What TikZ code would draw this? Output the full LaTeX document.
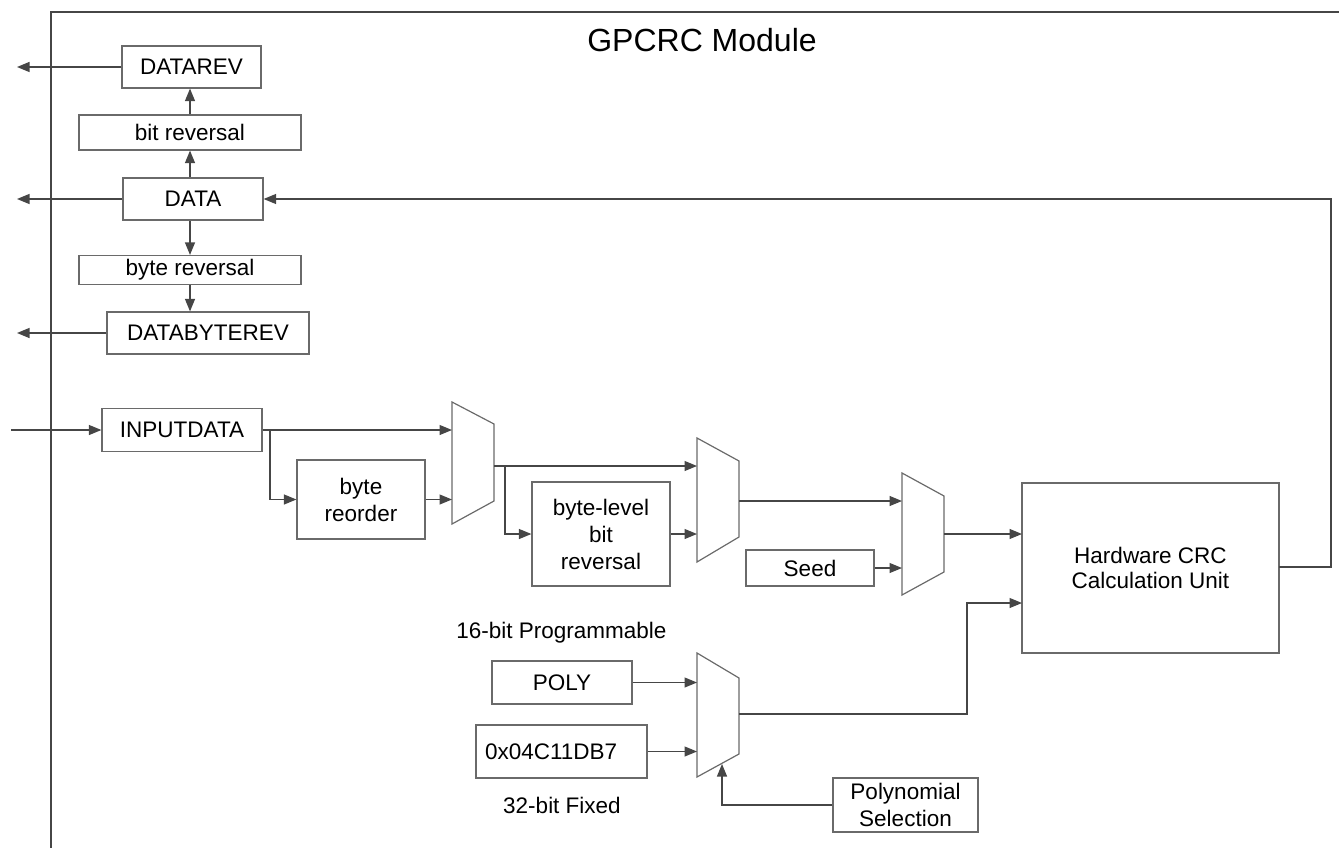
\documentclass[tikz,border=0pt]{standalone}
\usepackage{fontspec}
\setmainfont{Liberation Sans}
\usetikzlibrary{arrows.meta}
\definecolor{linec}{HTML}{464646}
\definecolor{boxc}{HTML}{6A6A6A}
\begin{document}
\begin{tikzpicture}[x=1pt,y=-1pt,
  box/.style={draw=boxc, line width=1.2pt, rectangle, inner sep=0pt, font=\fontsize{22.5}{27}\selectfont, align=center, text=black},
  lbl/.style={inner sep=0pt, font=\fontsize{22.5}{27}\selectfont, text=black},
  conn/.style={draw=linec, line width=1.2pt},
  arr/.style={conn, -{Triangle[length=12.5pt,width=10pt]}},
  mux/.style={draw=boxc, line width=1.2pt, line join=miter}]
\useasboundingbox (0,0) rectangle (1339,848);

% module frame
\coordinate (ftr) at (1339,12);
\coordinate (ftl) at (51,12);
\coordinate (fbl) at (51,848);
\draw[conn] (ftr) -- (ftl) -- (fbl);
\node[inner sep=0pt, font=\fontsize{32}{38}\selectfont] (title) at (702,40) {GPCRC Module};

% register column
\node[box, minimum width=139pt, minimum height=42pt] (datarev) at (191.5,67) {DATAREV};
\node[box, minimum width=222pt, minimum height=35pt] (bitrev) at (190,132.5) {bit reversal};
\node[box, minimum width=140pt, minimum height=42pt] (data) at (193,199) {DATA};
\node[box, minimum width=222pt, minimum height=29pt] (byterev) at (190,270) {byte reversal};
\node[box, minimum width=202pt, minimum height=42pt] (databyterev) at (208,333) {DATABYTEREV};

\coordinate (o1) at (17,67);
\coordinate (o2) at (17,199);
\coordinate (o3) at (17,333);
\draw[arr] (datarev.west) -- (o1);
\draw[arr] (data.west) -- (o2);
\draw[arr] (databyterev.west) -- (o3);
\draw[arr] (bitrev.north) -- (bitrev.north |- datarev.south);
\draw[arr] (data.north -| bitrev.center) -- (bitrev.south);
\draw[arr] (data.south -| byterev.center) -- (byterev.north);
\draw[arr] (byterev.south) -- (byterev.south |- databyterev.north);

% input path
\node[box, minimum width=160pt, minimum height=43pt] (inputdata) at (182,430) {INPUTDATA};
\node[box, minimum width=128pt, minimum height=79pt] (reorder) at (361,499.5) {byte\\reorder};
\node[box, minimum width=138pt, minimum height=104pt] (blbr) at (601,534) {byte-level\\bit\\reversal};
\node[box, minimum width=128pt, minimum height=36pt] (seed) at (810,568) {Seed};
\node[box, minimum width=257pt, minimum height=170pt, font=\fontsize{22.5}{25}\selectfont] (crc) at (1150.5,568) {Hardware CRC\\Calculation Unit};

\coordinate (in) at (11,430);
\draw[arr] (in) -- (inputdata.west);

% multiplexers
\draw[mux] (452,402) -- (494,424) -- (494,501) -- (452,524) -- cycle;
\draw[mux] (697,438) -- (739,461) -- (739,537) -- (697,562) -- cycle;
\draw[mux] (902,473) -- (944,496) -- (944,572) -- (902,595) -- cycle;
\draw[mux] (697,653) -- (739,678) -- (739,754) -- (697,777) -- cycle;

\coordinate (m1a) at (452,430);
\coordinate (m1b) at (452,499.5);
\coordinate (m1o) at (494,466);
\coordinate (m2a) at (697,466);
\coordinate (m2b) at (697,534);
\coordinate (m2o) at (739,501);
\coordinate (m3a) at (902,501);
\coordinate (m3b) at (902,568);
\coordinate (m3o) at (944,534);
\coordinate (m4a) at (697,682.5);
\coordinate (m4b) at (697,751.5);
\coordinate (m4o) at (739,714);
\coordinate (m4s) at (722,764);
\coordinate (br1) at (270,430);
\coordinate (br2) at (505,466);
\coordinate (crcin1) at (1022,534);
\coordinate (crcin2) at (1022,603);
\coordinate (bend4) at (967,714);
\coordinate (crcout) at (1279,567);
\coordinate (fb) at (1331,567);

\draw[arr] (inputdata.east) -- (m1a);
\draw[arr] (br1) |- (reorder.west);
\draw[arr] (reorder.east) -- (m1b);
\draw[arr] (m1o) -- (m2a);
\draw[arr] (br2) |- (blbr.west);
\draw[arr] (blbr.east) -- (m2b);
\draw[arr] (m2o) -- (m3a);
\draw[arr] (seed.east) -- (m3b);
\draw[arr] (m3o) -- (crcin1);
\draw[arr] (m4o) -- (bend4) |- (crcin2);
\draw[arr] (crcout) -- (fb) |- (data.east);

% polynomial
\node[lbl] (lab16) at (561.5,633) {16-bit Programmable};
\node[box, minimum width=140pt, minimum height=43pt] (poly) at (562,682.5) {POLY};
\node[box, minimum width=171pt, minimum height=53pt, text width=153pt, align=left] (fixed) at (561.5,751.5) {0x04C11DB7};
\node[lbl] (lab32) at (562,805) {32-bit Fixed};
\node[box, minimum width=145pt, minimum height=54pt] (polysel) at (905.5,805) {Polynomial\\Selection};

\draw[arr] (poly.east) -- (m4a);
\draw[arr] (fixed.east) -- (m4b);
\draw[arr] (polysel.west) -| (m4s);
\end{tikzpicture}
\end{document}
